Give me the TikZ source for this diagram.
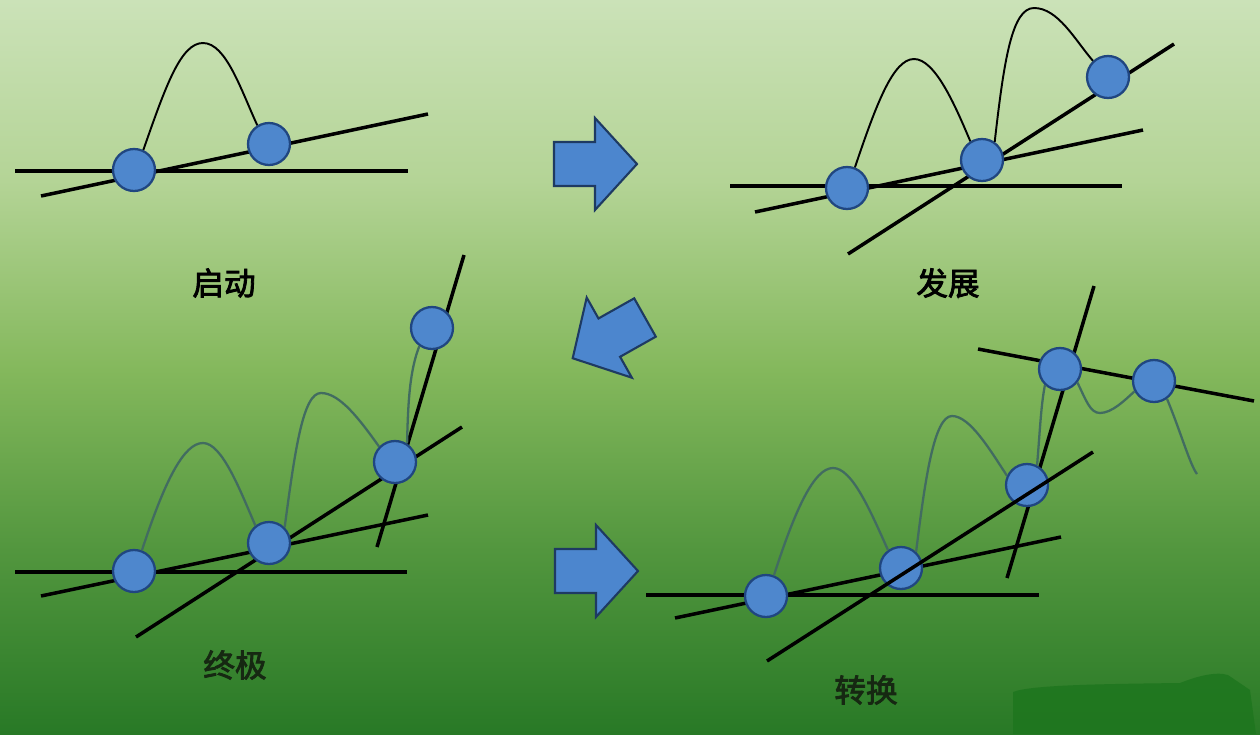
\documentclass[tikz,border=0pt]{standalone}
\usepackage{fontspec}
\newfontfamily\cjk[FakeBold=2.6]{Noto Sans CJK SC}
\usepackage{tikz}
\usetikzlibrary{shapes,arrows}
\definecolor{bgtop}{RGB}{203,226,184}
\definecolor{bgca}{RGB}{180,212,150}
\definecolor{bgcb}{RGB}{132,184,92}
\definecolor{bgcc}{RGB}{82,150,62}
\definecolor{bgbot}{RGB}{40,121,38}
\definecolor{blotch}{RGB}{30,118,30}
\definecolor{dotblue}{RGB}{78,135,205}
\definecolor{dotline}{RGB}{32,70,128}
\definecolor{arrowblue}{RGB}{76,134,206}
\definecolor{arrowline}{RGB}{30,58,98}
\definecolor{curvegrey}{RGB}{66,108,96}
\definecolor{labeldark}{RGB}{22,40,18}
\pgfdeclareverticalshading{bggreen}{100bp}{color(0bp)=(bgbot); color(25bp)=(bgbot); color(37.5bp)=(bgcc); color(49.8bp)=(bgcb); color(62.7bp)=(bgca); color(75bp)=(bgtop); color(100bp)=(bgtop)}
\tikzstyle{mydot} = [draw=dotline, line width=1.3pt, circle, fill=dotblue, minimum size=0.84cm, inner sep=0pt]
\tikzstyle{myline} = [draw=black, line width=2pt]
\tikzstyle{mycurve} = [draw=black, line width=1.1pt]
\tikzstyle{mygreycurve} = [draw=curvegrey, line width=1.3pt]
\tikzstyle{myarrow} = [draw=arrowline, line width=1.2pt, fill=arrowblue, line join=miter]
\tikzstyle{mylabel} = [font=\cjk\fontsize{18}{20}\selectfont, text=black]

\begin{document}
\begin{tikzpicture}[x=0.02cm, y=-0.02cm]
\useasboundingbox (0,0) rectangle (1260,734);
\shade[shading=bggreen] (0,0) rectangle (1260,734);
\fill[blotch, opacity=0.85] (1013,734) -- (1013,692) .. controls (1030,685) and (1100,684) .. (1180,683) .. controls (1195,677) and (1215,671) .. (1228,675) -- (1250,690) -- (1256,734) -- cycle;

% frecce
\foreach \px/\py/\ang in {554/164/0, 645/317.5/209.4, 555/571/0}
  \draw[myarrow, shift={(\px,\py)}, rotate=\ang] (0,-22) -- (41,-22) -- (41,-46) -- (83,0) -- (41,46) -- (41,22) -- (0,22) -- cycle;

% avvio
\coordinate (sh0) at (15,171);   \coordinate (sh1) at (408,171);
\coordinate (sk0) at (41,196);   \coordinate (sk1) at (428,114);
\draw[myline] (sh0) -- (sh1);
\draw[myline] (sk0) -- (sk1);
\node [mydot] (s1) at (134,170) {};
\node [mydot] (s2) at (269,144) {};
\draw[mycurve] (s1.65) .. controls (166,85) and (181,43) .. (203,43) .. controls (226,43) and (241,90) .. (s2.122);
\node [mylabel] (lbStart) at (224,283) {启动};

% sviluppo
\coordinate (dh0) at (730,186);  \coordinate (dh1) at (1122,186);
\coordinate (dk0) at (755,212);  \coordinate (dk1) at (1143,130);
\coordinate (dm0) at (848,254);  \coordinate (dm1) at (1174,44);
\draw[myline] (dh0) -- (dh1);
\draw[myline] (dk0) -- (dk1);
\draw[myline] (dm0) -- (dm1);
\node [mydot] (d1) at (847,188) {};
\node [mydot] (d2) at (982,160) {};
\node [mydot] (d3) at (1108,77) {};
\draw[mycurve] (d1.69) .. controls (876,105) and (893,59) .. (914,59) .. controls (935,59) and (955,105) .. (d2.122);
\draw[mycurve] (d2.55) .. controls (1004,60) and (1012,8) .. (1034,8) .. controls (1058,8) and (1075,40) .. (d3.133);
\node [mylabel] (lbGrow) at (948,283) {发展};

% finale
\coordinate (zh0) at (15,572);   \coordinate (zh1) at (407,572);
\coordinate (zk0) at (41,596);   \coordinate (zk1) at (428,515);
\coordinate (zm0) at (136,637);  \coordinate (zm1) at (462,427);
\coordinate (zs0) at (377,547);  \coordinate (zs1) at (464,255);
\draw[myline] (zh0) -- (zh1);
\draw[myline] (zk0) -- (zk1);
\draw[myline] (zm0) -- (zm1);
\draw[myline] (zs0) -- (zs1);
\node [mydot] (z1) at (134,571) {};
\node [mydot] (z2) at (269,543) {};
\node [mydot] (z3) at (395,462) {};
\node [mydot] (z4) at (432,328) {};
\draw[mygreycurve] (z1.69) .. controls (165,480) and (184,443) .. (203,443) .. controls (222,443) and (240,490) .. (z2.128);
\draw[mygreycurve] (z2.45) .. controls (295,450) and (303,393) .. (321,393) .. controls (340,393) and (360,420) .. (z3.136);
\draw[mygreycurve] (z3.57) .. controls (408,400) and (410,370) .. (z4.235);
\node [mylabel, text=labeldark] (lbEnd) at (235,665) {终极};

% trasformazione
\coordinate (th0) at (646,595);  \coordinate (th1) at (1039,595);
\coordinate (tk0) at (675,618);  \coordinate (tk1) at (1061,537);
\coordinate (tm0) at (767,661);  \coordinate (tm1) at (1093,452);
\coordinate (ts0) at (1007,578); \coordinate (ts1) at (1094,286);
\coordinate (tr0) at (978,349);  \coordinate (tr1) at (1254,401);
\coordinate (tend) at (1197,474);
\draw[myline] (th0) -- (th1);
\draw[myline] (tk0) -- (tk1);
\draw[myline] (ts0) -- (ts1);
\draw[myline] (tr0) -- (tr1);
\node [mydot] (t1) at (766,596) {};
\node [mydot] (t2) at (901,568) {};
\node [mydot] (t3) at (1027,485) {};
\node [mydot] (t4) at (1060,369) {};
\node [mydot] (t5) at (1154,381) {};
\draw[myline] (tm0) -- (tm1);
\draw[mygreycurve] (t1.69) .. controls (795,510) and (814,468) .. (833,468) .. controls (852,468) and (870,510) .. (t2.126);
\draw[mygreycurve] (t2.47) .. controls (925,480) and (934,416) .. (952,416) .. controls (970,416) and (990,450) .. (t3.155);
\draw[mygreycurve] (t3.63) .. controls (1040,430) and (1041,405) .. (t4.227);
\draw[mygreycurve] (t4.322) .. controls (1086,400) and (1090,413) .. (1100,413) .. controls (1112,413) and (1125,400) .. (t5.208);
\draw[mygreycurve] (t5.306) .. controls (1180,430) and (1190,465) .. (tend);
\node [mylabel, text=labeldark] (lbTurn) at (866,690) {转换};
\end{tikzpicture}
\end{document}
